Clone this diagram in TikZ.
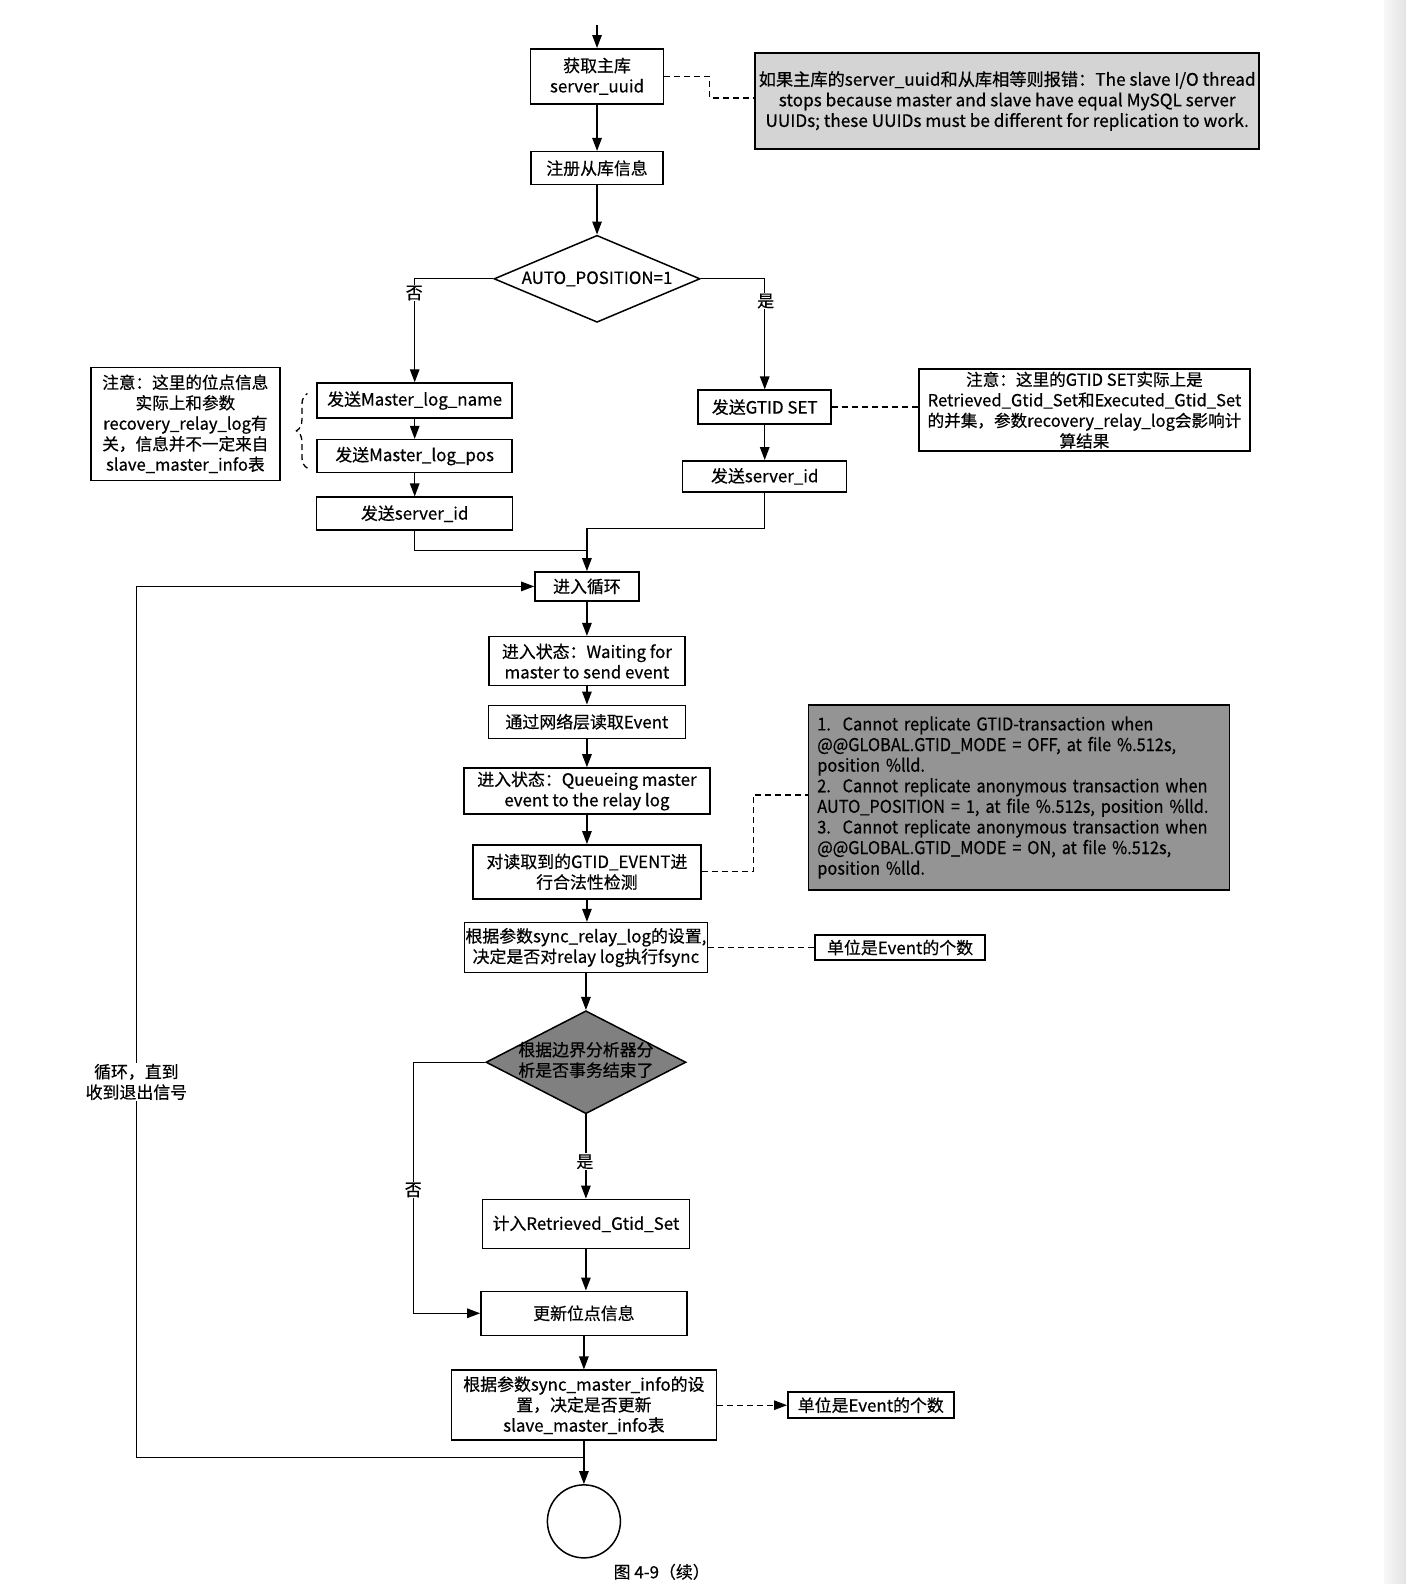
\documentclass[tikz,border=0pt]{standalone}
\usepackage{fontspec}
\setmainfont{Noto Sans CJK SC}[FakeBold=0.5]
\newfontfamily\narrowfont{Noto Sans CJK SC}[FakeBold=0.5, FakeStretch=0.93]
\usetikzlibrary{shapes.geometric,arrows.meta,decorations.pathreplacing,calc}
\newcommand{\fs}{\fontsize{16.9}{20.5}\selectfont}
\newcommand{\fn}{\fontsize{16.6}{20.5}\selectfont}
\newcommand{\fu}{\fontsize{17.2}{20.6}\selectfont}
\newcommand{\fw}{\narrowfont\fontsize{17.6}{20.6}\selectfont}
\begin{document}
\begin{tikzpicture}[x=1.0101pt,y=-1.0101pt,
  sz/.style 2 args={minimum width=#1pt, minimum height=#2pt},
  box/.style={draw, line width=1.5pt, fill=white, align=center, inner sep=1pt, font=\fs},
  note/.style={draw, line width=1.5pt, align=center, inner sep=1pt, font=\fn},
  arr/.style={line width=1.3pt, -{Triangle[length=13pt,width=9.5pt]}},
  ln/.style={line width=1.3pt},
  dsh/.style={line width=1.3pt, dash pattern=on 6pt off 4pt},
  lbl/.style={fill=white, inner sep=1pt, font=\fs},
  dia/.style={draw, diamond, line width=1.5pt, inner sep=0pt, font=\fs, align=center}]
\useasboundingbox (0,0) rectangle (1392,1568);
\fill[left color=black!3, right color=black!11] (1370,0) rectangle (1392,1568);

% top part
\node[box, sz={133}{55}] (b1) at (591,75.5) {获取主库\\server\_uuid};
\node[note, sz={504}{96}, fill=black!17, font=\fu] (n1) at (997,100) {如果主库的server\_uuid和从库相等则报错：The slave I/O thread\\stops because master and slave have equal MySQL server\\UUIDs; these UUIDs must be different for replication to work.};
\node[box, sz={132}{33}] (b2) at (591,166.5) {注册从库信息};
\node[dia, sz={206}{87}, fill=white] (d1) at (591,276) {\makebox[0pt]{AUTO\_POSITION=1}};

% left branch
\node[box, sz={195}{35}] (L1) at (410.5,396.5) {发送Master\_log\_name};
\node[box, sz={195}{33}] (L2) at (410.5,451.5) {发送Master\_log\_pos};
\node[box, sz={196}{33}] (L3) at (410.5,508.5) {发送server\_id};
\node[note, sz={189}{113}, fill=white] (nL) at (183.5,419.5) {注意：这里的位点信息\\实际上和参数\\recovery\_relay\_log有\\关，信息并不一定来自\\slave\_master\_info表};

% right branch
\node[box, sz={133}{34}] (R1) at (757,403) {发送GTID SET};
\node[box, sz={164}{31}] (R2) at (757,471.5) {发送server\_id};
\node[note, sz={331}{82}, fill=white] (nR) at (1073.5,406) {注意：这里的GTID SET实际上是\\Retrieved\_Gtid\_Set和Executed\_Gtid\_Set\\的并集，参数recovery\_relay\_log会影响计\\算结果};

% loop body
\node[box, sz={104}{29}] (loop) at (581,580.5) {进入循环};
\node[box, sz={196}{49}] (w) at (581,654.5) {进入状态：Waiting for\\master to send event};
\node[box, sz={197}{33}] (e) at (581,714.5) {通过网络层读取Event};
\node[box, sz={246}{46}] (q) at (581,783) {进入状态：Queueing master\\event to the relay log};
\node[box, sz={228}{54}] (g) at (581,863) {对读取到的GTID\_EVENT进\\行合法性检测};
\node[box, sz={241}{50}] (s) at (580,938) {根据参数sync\_relay\_log的设置,\\决定是否对relay log执行fsync};
\node[note, sz={421}{185}, fill=black!42, align=left, text width=403pt, inner xsep=9pt, font=\fw] (nB) at (1008.5,789.5) {1.\ \ Cannot replicate GTID-transaction when\\@@GLOBAL.GTID\_MODE = OFF, at file \%.512s,\\position \%lld.\\2.\ \ Cannot replicate anonymous transaction when\\AUTO\_POSITION = 1, at file \%.512s, position \%lld.\\3.\ \ Cannot replicate anonymous transaction when\\@@GLOBAL.GTID\_MODE = ON, at file \%.512s,\\position \%lld.};
\node[note, sz={170}{25}, fill=white, font=\fs] (u1) at (891,938) {单位是Event的个数};
\node[dia, sz={200}{103}, fill=black!50] (d2) at (580,1051.5) {\makebox[0pt]{\begin{tabular}{@{}c@{}}根据边界分析器分\\析是否事务结束了\end{tabular}}};
\node[box, sz={207}{49}] (r) at (580,1211.5) {计入Retrieved\_Gtid\_Set};
\node[box, sz={206}{44}] (up) at (578,1300) {更新位点信息};
\node[box, sz={265}{70}] (m) at (578,1391) {根据参数sync\_master\_info的设\\置，决定是否更新\\slave\_master\_info表};
\node[note, sz={166}{26}, fill=white, font=\fs] (u2) at (862,1391) {单位是Event的个数};
\node[draw, circle, line width=1.5pt, minimum size=73pt, inner sep=0pt] (c) at (578,1506) {};

% connectors
\coordinate (top) at (591,25);
\draw[arr] (top) -- (b1.north);
\draw[dsh] (b1.east) -- ++(45,0) |- ([yshift=3pt]n1.west);
\draw[arr] (b1.south) -- (b2.north);
\draw[arr] (b2.south) -- (d1.north);
\draw[arr] (d1.west) -| (L1.north);
\draw[arr] (d1.east) -| (R1.north);
\draw[arr] (L1.south) -- (L2.north);
\draw[arr] (L2.south) -- (L3.north);
\draw[arr] (R1.south) -- (R2.north);
\draw[dsh] (R1.east) -- (R1.east -| nR.west);
\draw[dsh, decorate, decoration={brace, amplitude=11pt}] ([xshift=-9pt,yshift=-12pt]L2.west) -- ([xshift=-9pt,yshift=7pt]L1.west);
\coordinate (j1) at (581,545);
\coordinate (j2) at (581,523);
\draw[ln] (L3.south) |- (j1);
\draw[ln] (R2.south) |- (j2);
\draw[arr] (j2) -- (loop.north);
\draw[arr] (loop.south) -- (w.north);
\draw[arr] (w.south) -- (e.north);
\draw[arr] (e.south) -- (q.north);
\draw[arr] (q.south) -- (g.north);
\draw[arr] (g.south) -- (g.south |- s.north);
\draw[dsh] (g.east) -- ++(51,0) |- ([yshift=2.5pt]nB.west);
\draw[dsh] (s.east) -- (s.east -| u1.west);
\draw[arr] (s.south) -- (d2.north);
\draw[arr] (d2.south) -- (r.north);
\draw[arr] (d2.west) -- ++(-71,0) |- (up.west);
\draw[arr] (r.south) -- (r.south |- up.north);
\draw[arr] (up.south) -- (m.north);
\draw[dsh, -{Triangle[length=13pt,width=9.5pt]}] (m.east) -- (m.east -| u2.west);
\draw[arr] (m.south) -- (c.north);
\coordinate (lb) at (135,1443);
\coordinate (lt) at (135,580.5);
\draw[arr] (m.south |- lb) -- (lb) -- (lt) -- (loop.west);

% labels
\node[lbl] (no1) at (410,290) {否};
\node[lbl] (yes1) at (758,298) {是};
\node[lbl] (yes2) at (579,1150) {是};
\node[lbl] (no2) at (409,1178) {否};
\node[lbl, align=center, font=\fs] (lp) at (135,1071) {循环，直到\\收到退出信号};
\node[font=\fs, inner sep=0pt] (cap) at (655,1556) {图 4-9（续）};
\end{tikzpicture}
\end{document}
